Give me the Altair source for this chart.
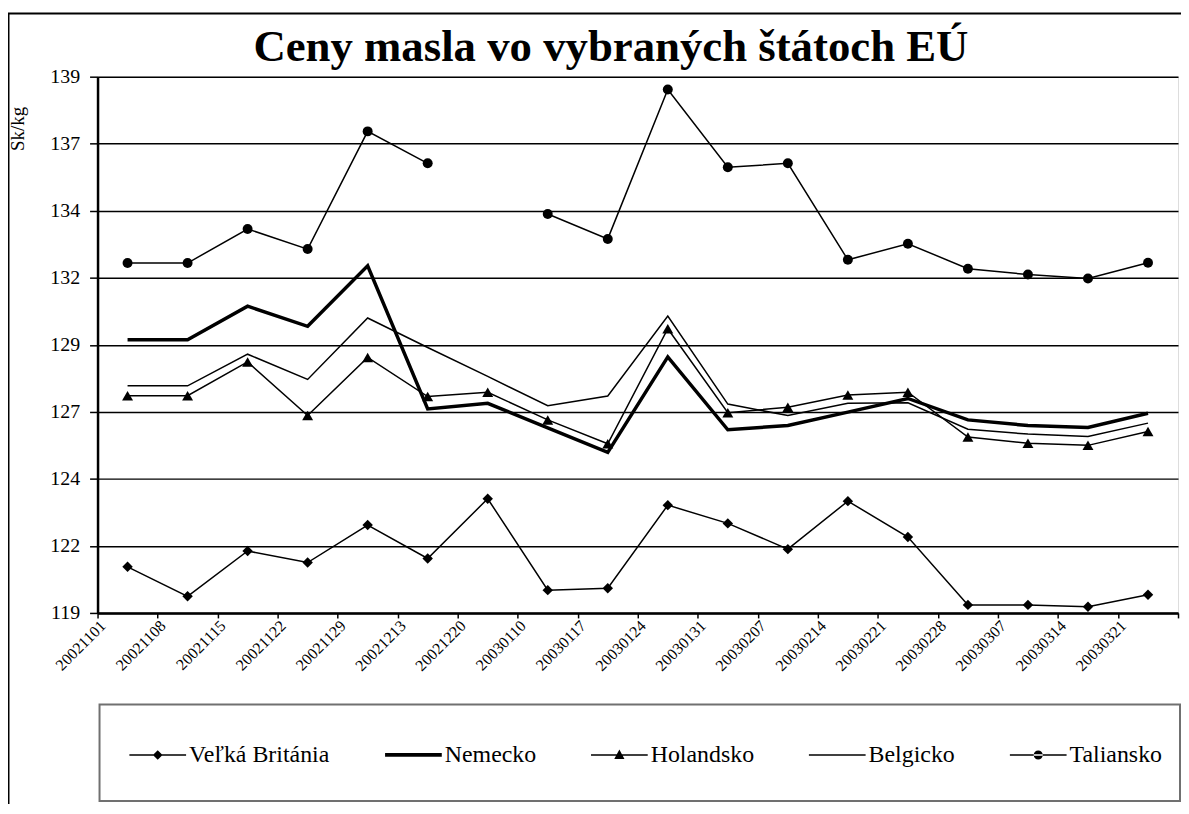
import altair as alt
import pandas as pd

dates = ["20021101", "20021108", "20021115", "20021122", "20021129", "20021213",
         "20021220", "20030110", "20030117", "20030124", "20030131", "20030207",
         "20030214", "20030221", "20030228", "20030307", "20030314", "20030321"]
series_names = ["Veľká Británia", "Nemecko", "Holandsko", "Belgicko", "Taliansko"]

velka_britania = [120.72, 119.62, 121.31, 120.88, 122.28, 121.03, 123.26, 119.85, 119.92,
                  123.02, 122.34, 121.38, 123.17, 121.83, 119.30, 119.30, 119.23, 119.68]
nemecko = [129.19, 129.19, 130.44, 129.69, 131.95, 126.61, 126.82, 125.90, 124.99,
           128.55, 125.83, 125.99, 126.49, 127.00, 126.20, 125.99, 125.92, 126.45]
holandsko = [127.10, 127.10, 128.36, 126.36, 128.53, 127.07, 127.23, 126.20, 125.31,
             129.60, 126.47, 126.67, 127.13, 127.23, 125.56, 125.33, 125.25, 125.77]
belgicko = [127.47, 127.47, 128.65, 127.71, 130.00, 128.90, 127.82, 126.73, 127.09,
            130.07, 126.79, 126.36, 126.82, 126.84, 125.85, 125.67, 125.58, 126.08]
taliansko = [132.05, 132.05, 133.32, 132.57, 136.96, 135.77, None, 133.88, 132.95,
             138.52, 135.62, 135.77, 132.17, 132.77, 131.84, 131.62, 131.47, 132.06]

y_ticks = [119, 121.5, 124, 126.5, 129, 131.5, 134, 136.5, 139]

rows = []
for name, vals in zip(series_names, [velka_britania, nemecko, holandsko, belgicko, taliansko]):
    for d, v in zip(dates, vals):
        rows.append({"date": d, "series": name, "value": v})
df = pd.DataFrame(rows)

W, H = 1086, 539
FONT = "Liberation Serif"

xenc = alt.X("date:O",
             scale=alt.Scale(type="band", domain=dates, paddingInner=0, paddingOuter=0),
             axis=alt.Axis(tickBand="extent", labelAngle=315, labelAlign="right",
                           labelBaseline="middle", labelFont=FONT, labelFontSize=16,
                           labelColor="black", labelPadding=5, labelOffset=-25,
                           tickSize=5, tickWidth=1.5, tickColor="black",
                           domainColor="black", domainWidth=2.5, grid=False,
                           labelOverlap=False),
             title=None)
yenc = alt.Y("value:Q",
             scale=alt.Scale(domain=[119, 139], nice=False, zero=False),
             axis=alt.Axis(values=y_ticks, format=".0f", grid=True, gridColor="black",
                           gridWidth=1.5, gridOpacity=1, tickSize=8, tickWidth=1.5,
                           tickColor="black", domainColor="black", domainWidth=2.5,
                           labelFont=FONT, labelFontSize=20, labelColor="black",
                           labelPadding=10, titleFont=FONT, titleFontSize=19,
                           titleFontWeight="normal", titleColor="black",
                           titleX=-80, titleY=52, titleAlign="center",
                           titleBaseline="middle", labelOverlap=False),
             title="Sk/kg")

base = alt.Chart(df)

thin_lines = base.transform_filter(alt.datum.series != "Nemecko").mark_line(
    color="black", strokeWidth=1.5, invalid="break-paths-show-domains").encode(
    x=xenc, y=yenc, detail="series:N")
thick_line = base.transform_filter(alt.datum.series == "Nemecko").mark_line(
    color="black", strokeWidth=3.5).encode(x=xenc, y=yenc, detail="series:N")

vb_pts = base.transform_filter(alt.datum.series == "Veľká Británia").mark_point(
    shape="diamond", size=110, filled=True, color="black", opacity=1).encode(x=xenc, y=yenc)
ho_pts = base.transform_filter(alt.datum.series == "Holandsko").mark_point(
    shape="triangle-up", size=121, filled=True, color="black", opacity=1).encode(x=xenc, y=yenc)
ta_pts = base.transform_filter(alt.datum.series == "Taliansko").mark_point(
    shape="circle", size=100, filled=True, color="black", opacity=1).encode(x=xenc, y=yenc)

# legend symbols: line segment (thin filled bar) with the series marker in the middle
legend_paths = [
    "M-1,-0.027H1V0.027H-1ZM0,-0.17L0.17,0L0,0.17L-0.17,0Z",
    "M-1,-0.065H1V0.065H-1Z",
    "M-1,-0.027H1V0.027H-1ZM0,-0.19L0.18,0.14L-0.18,0.14Z",
    "M-1,-0.027H1V0.027H-1Z",
    "M-1,-0.027H1V0.027H-1ZM-0.16,0A0.16,0.16,0,1,0,0.16,0A0.16,0.16,0,1,0,-0.16,0Z",
]

legend_layer = alt.Chart(pd.DataFrame({"series": series_names})).mark_point(
    filled=True, fill="black", stroke="black", strokeWidth=0, opacity=0).encode(
    shape=alt.Shape("series:N",
                    scale=alt.Scale(domain=series_names, range=legend_paths),
                    legend=alt.Legend(orient="none", legendX=32, legendY=653,
                                      direction="horizontal", title=None,
                                      symbolSize=3249, symbolStrokeWidth=0,
                                      symbolOpacity=1,
                                      symbolFillColor="black", symbolStrokeColor="black",
                                      labelFont=FONT, labelFontSize=24, labelColor="black",
                                      labelOffset=3, columnPadding=55, padding=0,
                                      labelLimit=400)))

deco = alt.Chart(pd.DataFrame({"k": [0]}))
outer_box = deco.mark_rect(fill="transparent", stroke="black", strokeWidth=2, clip=False).encode(
    x=alt.value(-89.5), x2=alt.value(W + 60), y=alt.value(-63.5), y2=alt.value(H + 300))
legend_box = deco.mark_rect(fill="transparent", stroke="#707070", strokeWidth=2, clip=False).encode(
    x=alt.value(2), x2=alt.value(1088), y=alt.value(631), y2=alt.value(728))

chart = alt.layer(outer_box, legend_box, thin_lines, thick_line, vb_pts, ho_pts, ta_pts,
                  legend_layer).properties(
    width=W, height=H,
    title=alt.TitleParams("Ceny masla vo vybraných štátoch EÚ", font=FONT, fontSize=45,
                          fontWeight="bold", color="black", anchor="middle", frame="group",
                          dx=-27, dy=107, offset=13, baseline="alphabetic"),
    autosize=alt.AutoSizeParams(type="none"),
    padding={"left": 90, "top": 67, "right": 3, "bottom": 190},
).configure_view(stroke="black", strokeWidth=1.5).configure_legend(
    labelFont=FONT, labelFontSize=24, labelColor="black"
).configure(background="white")

chart.save("out.html", embed_options={"renderer": "svg", "actions": False})
